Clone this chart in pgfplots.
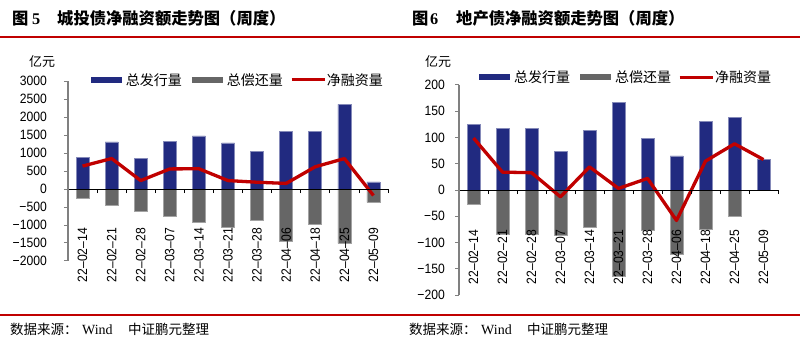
\documentclass[border=0pt]{standalone}
\usepackage{pgfplots}
\pgfplotsset{compat=1.18}
\usepackage{pgfplotstable}
\usepackage{graphicx}
\usepackage{fontspec}
\setmainfont{Liberation Sans}
\newfontfamily\cjk{Noto Sans CJK SC}
\newfontfamily\numfont[FakeStretch=0.9]{Liberation Sans}
\newfontfamily\tnr{Liberation Serif}
\definecolor{navy}{RGB}{33,42,128}
\definecolor{barg}{RGB}{102,102,102}
\definecolor{netred}{RGB}{192,0,0}
\definecolor{axgray}{RGB}{128,128,128}
\newcommand\tickfont{\numfont\fontsize{13.5}{15}\selectfont}
\newcommand\rl[1]{\rotatebox{90}{#1}}

\pgfplotstableread{
x iss rep net
0 880 -245 636
1 1310 -465 847
2 850 -615 234
3 1320 -765 558
4 1475 -915 562
5 1280 -1055 234
6 1040 -860 188
7 1600 -1450 155
8 1610 -990 618
9 2350 -1510 845
10 200 -370 -180
}\ctb

\pgfplotstableread{
x iss rep net
0 125 -27 99
1 118 -85 34
2 117 -84 33
3 73 -86 -13
4 114 -71 44
5 167 -164 3
6 98 -76 22
7 65 -123 -58
8 130 -75 55
9 138 -50 88
10 59 nan 58
}\dtb

\pgfplotsset{
  mychart/.style={
    scale only axis, axis on top,
    xmin=-0.5, xmax=10.5,
    axis x line=middle, axis y line=left,
    hide obscured x ticks=false, hide obscured y ticks=false,
    x axis line style={black, line width=0.8pt, -},
    y axis line style={axgray, line width=1.6pt, -},
    xtick={0,...,10},
    xticklabels={\rl{22–02–14},\rl{22–02–21},\rl{22–02–28},\rl{22–03–07},\rl{22–03–14},\rl{22–03–21},\rl{22–03–28},\rl{22–04–06},\rl{22–04–18},\rl{22–04–25},\rl{22–05–09}},
    minor xtick={-0.5,0.5,...,10.5},
    tick align=center,
    major tick length=4pt, minor tick length=4pt,
    every major x tick/.append style={draw=none},
    every minor x tick/.append style={black, line width=0.8pt, yshift=-2pt},
    every major y tick/.append style={axgray, line width=1pt, xshift=-2pt},
    xticklabel style={anchor=north, inner sep=0pt, font=\tickfont},
    yticklabel style={anchor=east, inner sep=0pt, font=\tickfont},
    legend columns=3,
    legend style={draw=none, fill=none, inner sep=0pt, outer sep=0pt,
      anchor=west, font=\cjk\fontsize{14}{16}\selectfont,
      nodes={inner sep=1pt},
      /tikz/every even column/.append style={column sep=6pt}},
  },
  issbar/.style={ybar, bar width=13pt, bar shift=0pt, fill=navy, draw=navy!55!white, line width=0.6pt,
    legend image code/.code={\draw[navy, line width=6pt] (0pt,0pt) -- (31pt,0pt);}},
  repbar/.style={ybar, bar width=13pt, bar shift=0pt, fill=barg, draw=barg!60!white, line width=0.6pt,
    legend image code/.code={\draw[barg, line width=6pt] (0pt,0pt) -- (31pt,0pt);}},
  netline/.style={sharp plot, no markers, netred, line width=3.3pt, line join=round,
    legend image code/.code={\draw[netred, line width=3pt] (0pt,0pt) -- (33pt,0pt);}},
}

\begin{document}
\begin{tikzpicture}[x=1pt,y=1pt]
\useasboundingbox (0,0) rectangle (800,-347);
\fill[white] (0,0) rectangle (800,-347);
% header
\draw[netred, line width=2pt] (0,-37.5) -- (800,-37.5);
\draw[netred, line width=2pt] (0,-315) -- (800,-315);
\begin{scope}[every node/.style={inner sep=0pt}]
\node[anchor=base west] at (12,-24.5) {\cjk\bfseries\fontsize{16.3}{18}\selectfont 图};
\node[anchor=base west] at (32,-24.5) {\tnr\bfseries\fontsize{16.3}{18}\selectfont 5};
\node[anchor=base west] at (57,-24.5) {\cjk\bfseries\fontsize{16.3}{18}\selectfont 城投债净融资额走势图（周度）};
\node[anchor=base west] at (412,-24.5) {\cjk\bfseries\fontsize{16.3}{18}\selectfont 图};
\node[anchor=base west] at (430,-24.5) {\tnr\bfseries\fontsize{16.3}{18}\selectfont 6};
\node[anchor=base west] at (456,-24.5) {\cjk\bfseries\fontsize{16.3}{18}\selectfont 地产债净融资额走势图（周度）};
% footer
\foreach \dx in {0,399}{
\node[anchor=base west] at (10+\dx,-334.5) {\cjk\fontsize{13.5}{15}\selectfont 数据来源：};
\node[anchor=base west] at (82+\dx,-334.5) {\tnr\fontsize{14}{15}\selectfont Wind};
\node[anchor=base west] at (128+\dx,-334.5) {\cjk\fontsize{13.5}{15}\selectfont 中证鹏元整理};
}
\node at (42,-62) {\cjk\fontsize{13}{15}\selectfont 亿元};
\node at (438,-62) {\cjk\fontsize{13}{15}\selectfont 亿元};
\end{scope}

\begin{axis}[mychart,
  at={(68pt,-261pt)}, anchor=south west,
  width=320pt, height=180pt,
  ymin=-2000, ymax=3000,
  ytick={-2000,-1500,...,3000},
  yticklabels={−2000,−1500,−1000,−500,0,500,1000,1500,2000,2500,3000},
  yticklabel style={xshift=-19pt},
  xticklabel style={yshift=-37pt},
  legend style={at={(0.0625,1.0056)}},
]
\addplot[issbar] table[x=x,y=iss] {\ctb};
\addlegendentry{总发行量}
\addplot[repbar] table[x=x,y=rep] {\ctb};
\addlegendentry{总偿还量}
\addplot[netline] table[x=x,y=net] {\ctb};
\addlegendentry{净融资量}
\end{axis}

\begin{axis}[mychart,
  at={(459pt,-295pt)}, anchor=south west,
  width=319pt, height=210pt,
  ymin=-200, ymax=200,
  ytick={-200,-150,...,200},
  yticklabels={−200,−150,−100,−50,0,50,100,150,200},
  yticklabel style={xshift=-12pt},
  xticklabel style={yshift=-38pt},
  legend style={at={(0.0533,1.038)}},
]
\addplot[issbar] table[x=x,y=iss] {\dtb};
\addlegendentry{总发行量}
\addplot[repbar] table[x=x,y=rep] {\dtb};
\addlegendentry{总偿还量}
\addplot[netline] table[x=x,y=net] {\dtb};
\addlegendentry{净融资量}
\end{axis}
\end{tikzpicture}
\end{document}
